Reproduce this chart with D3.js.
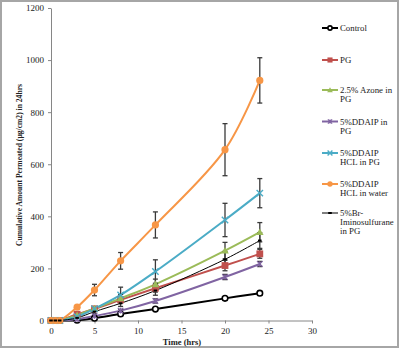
<!DOCTYPE html>
<meta charset='utf-8'>
<style>
  body { margin: 0; background: #fff; }
  svg { font-family: 'Liberation Serif', 'Times New Roman', serif; }
  .axis path, .axis line { stroke: #868686; }
  .axis text { fill: #222; font-size: 9px; font-family: 'Liberation Serif', serif; }
  .legend text { fill: #222; font-size: 8.8px; }
  .title { font-weight: bold; fill: #222; }
</style>
<body>
<div id='viz'></div>
<script src='https://d3js.org/d3.v7.min.js'></script>
<script>

// Sampling times (hrs)
var times = [0, 0.5, 1, 3, 5, 8, 12, 20, 24];

// Cumulative amount permeated per formulation
var control       = [0, 0, 0, 1, 9, 25, 44, 85, 105];
var pg            = [0, 0, 0, 24, 45, 79, 124, 211, 256];
var azone         = [0, 0, 0, 20, 46, 85, 139, 268, 339];
var ddaipPG       = [0, 0, 0, 5, 17, 38, 75, 167, 217];
var ddaipHclPG    = [0, 0, 0, 15, 45, 98, 188, 386, 489];
var ddaipHclWater = [0, 0, 0, 51, 117, 229, 367, 656, 922];
var brImino       = [0, 0, 0, 10, 34, 66, 115, 235, 307];

// Standard deviations
var controlErr       = [0, 0, 0, 0, 2, 4, 5, 6, 8];
var pgErr            = [0, 0, 0, 3, 5, 10, 15, 20, 17];
var azoneErr         = [0, 0, 0, 3, 6, 15, 20, 32, 37];
var ddaipPGErr       = [0, 0, 0, 2, 3, 5, 8, 10, 10];
var ddaipHclPGErr    = [0, 0, 0, 3, 8, 30, 45, 64, 56];
var ddaipHclWaterErr = [0, 0, 0, 5, 22, 32, 50, 100, 87];
var brIminoErr       = [0, 0, 0, 3, 8, 12, 18, 30, 30];

var seriesNames = ['Control', 'PG', '2.5% Azone in PG', '5%DDAIP in PG',
                   '5%DDAIP HCL in PG', '5%DDAIP HCL in water', '5%Br- Iminosulfurane in PG'];
var legendLines = [['Control'], ['PG'], ['2.5% Azone in', 'PG'], ['5%DDAIP in', 'PG'],
                   ['5%DDAIP', 'HCL in PG'], ['5%DDAIP', 'HCL in water'],
                   ['5%Br-', 'Iminosulfurane', 'in PG']];

var xTicks = [0, 5, 10, 15, 20, 25, 30];
var yTicks = [0, 200, 400, 600, 800, 1000, 1200];

var series = [
  {name: seriesNames[0], values: control, err: controlErr, color: '#000000', marker: 'ocircle', width: 2},
  {name: seriesNames[1], values: pg, err: pgErr, color: '#c0504d', marker: 'square', width: 2},
  {name: seriesNames[2], values: azone, err: azoneErr, color: '#9bbb59', marker: 'triangle', width: 2},
  {name: seriesNames[3], values: ddaipPG, err: ddaipPGErr, color: '#8064a2', marker: 'star', width: 2},
  {name: seriesNames[4], values: ddaipHclPG, err: ddaipHclPGErr, color: '#4bacc6', marker: 'x', width: 2},
  {name: seriesNames[5], values: ddaipHclWater, err: ddaipHclWaterErr, color: '#f79646', marker: 'circle', width: 2},
  {name: seriesNames[6], values: brImino, err: brIminoErr, color: '#000000', marker: 'dash', width: 1}
];

var W = 400, H = 349;
var margin = {top: 8, left: 51};
var width = 312 - margin.left,
    height = 320.5 - margin.top;

var svg = d3.select('#viz').append('svg')
    .attr('width', W)
    .attr('height', H);

svg.append('rect')
    .attr('x', 1).attr('y', 1)
    .attr('width', W - 3).attr('height', H - 3)
    .attr('fill', '#fff')
    .attr('stroke', '#a6a6a6')
    .attr('stroke-width', 2);

var x = d3.scaleLinear().domain([0, 30]).range([0, width]);
var y = d3.scaleLinear().domain([0, 1200]).range([height, 0]);

var g = svg.append('g')
    .attr('transform', 'translate(' + margin.left + ',' + margin.top + ')');

// Axes
g.append('g')
    .attr('class', 'axis')
    .attr('transform', 'translate(0,' + height + ')')
    .call(d3.axisBottom(x).tickValues(xTicks).tickFormat(d3.format('d'))
      .tickSize(3).tickSizeOuter(0).tickPadding(4));

g.append('g')
    .attr('class', 'axis')
    .call(d3.axisLeft(y).tickValues(yTicks).tickFormat(d3.format('d'))
      .tickSize(3).tickSizeOuter(0).tickPadding(4));

// Axis titles
svg.append('text')
    .attr('class', 'title')
    .attr('x', 182).attr('y', 345)
    .attr('text-anchor', 'middle')
    .attr('font-size', '8.5px')
    .text('Time (hrs)');

svg.append('text')
    .attr('class', 'title')
    .attr('transform', 'translate(22,165) rotate(-90)')
    .attr('text-anchor', 'middle')
    .attr('font-size', '7.6px')
    .text('Cumulative Amount Permeated (\u00b5g/cm2) in 24hrs');

// Marker drawing, k scales the size (legend uses smaller ones)
function drawMarker(sel, s, k) {
  var c = s.color;
  if (s.marker === 'ocircle') {
    sel.append('circle').attr('r', 2.8 * k).attr('fill', '#fff').attr('stroke', c).attr('stroke-width', 1.6);
  } else if (s.marker === 'circle') {
    sel.append('circle').attr('r', 3.6 * k).attr('fill', c);
  } else if (s.marker === 'square') {
    var h = 3.4 * k;
    sel.append('rect').attr('x', -h).attr('y', -h).attr('width', 2 * h).attr('height', 2 * h).attr('fill', c);
  } else if (s.marker === 'triangle') {
    var t = 3.8 * k;
    sel.append('path').attr('d', 'M0,' + (-t) + 'L' + t + ',' + (t * 0.75) + 'L' + (-t) + ',' + (t * 0.75) + 'Z').attr('fill', c);
  } else if (s.marker === 'star') {
    var a = 2.8 * k;
    sel.append('path').attr('d', 'M' + (-a) + ',' + (-a) + 'L' + a + ',' + a + 'M' + (-a) + ',' + a + 'L' + a + ',' + (-a) + 'M0,' + (-a) + 'L0,' + a)
      .attr('stroke', c).attr('stroke-width', 1.2).attr('fill', 'none');
  } else if (s.marker === 'x') {
    var b = 3.2 * k;
    sel.append('path').attr('d', 'M' + (-b) + ',' + (-b) + 'L' + b + ',' + b + 'M' + (-b) + ',' + b + 'L' + b + ',' + (-b))
      .attr('stroke', c).attr('stroke-width', 1.4).attr('fill', 'none');
  } else if (s.marker === 'dash') {
    sel.append('path').attr('d', 'M-1.8,0L1.8,0').attr('stroke', c).attr('stroke-width', 2);
  }
}

var line = d3.line()
    .x(function(d) { return x(d.t); })
    .y(function(d) { return y(d.v); })
    .curve(d3.curveCatmullRom.alpha(0.5));

series.forEach(function(s) {
  s.points = times.map(function(t, i) { return {t: t, v: s.values[i], e: s.err[i]}; });
});

// Lines
series.forEach(function(s) {
  g.append('path')
      .datum(s.points)
      .attr('fill', 'none')
      .attr('stroke', s.color)
      .attr('stroke-width', s.width)
      .attr('d', line);
});

// Error bars
series.forEach(function(s) {
  var eb = g.append('g').selectAll('g')
      .data(s.points.filter(function(d) { return d.e > 0; }))
      .enter().append('g')
      .attr('stroke', '#3a3a3a')
      .attr('stroke-width', 1.3);
  eb.append('line')
      .attr('x1', function(d) { return x(d.t); })
      .attr('x2', function(d) { return x(d.t); })
      .attr('y1', function(d) { return y(d.v - d.e); })
      .attr('y2', function(d) { return y(d.v + d.e); });
  [1, -1].forEach(function(sign) {
    eb.append('line')
        .attr('x1', function(d) { return x(d.t) - 2.5; })
        .attr('x2', function(d) { return x(d.t) + 2.5; })
        .attr('y1', function(d) { return y(d.v + sign * d.e); })
        .attr('y2', function(d) { return y(d.v + sign * d.e); });
  });
});

// Markers
series.forEach(function(s) {
  g.append('g').selectAll('g')
      .data(s.points)
      .enter().append('g')
      .attr('transform', function(d) { return 'translate(' + x(d.t) + ',' + y(d.v) + ')'; })
      .each(function() { drawMarker(d3.select(this), s, 1); });
});

// Legend
var legendY = [28, 60, 90, 121.5, 153, 184, 213];
var legend = svg.append('g').attr('class', 'legend');
series.forEach(function(s, i) {
  var item = legend.append('g').attr('transform', 'translate(322,' + legendY[i] + ')');
  item.append('line')
      .attr('x1', 0).attr('x2', 16)
      .attr('stroke', s.color).attr('stroke-width', s.width);
  var m = item.append('g').attr('transform', 'translate(8,0)');
  drawMarker(m, s, 0.75);
  var txt = item.append('text')
      .attr('x', 18).attr('y', 3);
  legendLines[i].forEach(function(l, j) {
    txt.append('tspan').attr('x', 18).attr('dy', j === 0 ? 0 : 9.2).text(l);
  });
});

</script>
</body>
